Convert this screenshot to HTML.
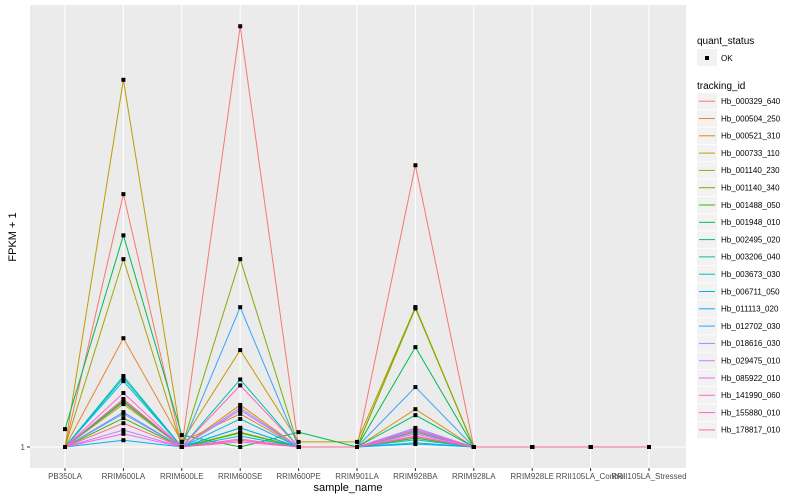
<!DOCTYPE html>
<html><head><meta charset="utf-8"><style>
body{margin:0;background:#fff;}
svg{display:block;font-family:"Liberation Sans",sans-serif;}
</style></head><body>
<svg id="chart" width="800" height="500">
<rect x="30" y="5" width="656" height="463" fill="#EBEBEB"/>
<g id="grid"></g><g id="lines"></g><g id="pts"></g><g id="axes"></g><g id="legend"></g>
<text x="348" y="491" font-size="11" text-anchor="middle" fill="#000">sample_name</text>
<text transform="translate(16,237) rotate(-90)" font-size="11" text-anchor="middle" fill="#000">FPKM + 1</text>
</svg>
<script>
const categories=["PB350LA","RRIM600LA","RRIM600LE","RRIM600SE","RRIM600PE","RRIM901LA","RRIM928BA","RRIM928LA","RRIM928LE","RRII105LA_Control","RRII105LA_Stressed"];
const seriesIds=["Hb_000329_640","Hb_000504_250","Hb_000521_310","Hb_000733_110","Hb_001140_230","Hb_001140_340","Hb_001488_050","Hb_001948_010","Hb_002495_020","Hb_003206_040","Hb_003673_030","Hb_006711_050","Hb_011113_020","Hb_012702_030","Hb_018616_030","Hb_029475_010","Hb_085922_010","Hb_141990_060","Hb_155880_010","Hb_178817_010"];
const seriesColors=["#F8766D","#EA8331","#D89000","#C09B00","#A3A500","#7CAE00","#39B600","#00BB4E","#00BF7D","#00C1A3","#00BFC4","#00BAE0","#00B0F6","#35A2FF","#9590FF","#C77CFF","#E76BF3","#FA62DB","#FF62BC","#FF6C91"];
const v01=[1,60.5,1,100,1,1,67.3,1,1,1,1];
const v02=[1,26.6,2.2,8.8,1,1,4.9,1,1,1,1];
const v03=[1,11.1,1,10.9,1,1,9.9,1,1,1,1];
const v04=[1,87.4,2.2,23.8,2.2,2.2,33.9,1,1,1,1];
const v05=[1,45.2,1,4.5,1,1,33.6,1,1,1,1];
const v06=[1,11.9,1,45.2,1,1,33.9,1,1,1,1];
const v07=[1,7.8,1,4.3,1,1,3.1,1,1,1,1];
const v08=[5.2,50.8,3.8,1,4.5,1,24.5,1,1,1,1];
const v09=[1,11.6,1,5.5,1,1,8.5,1,1,1,1];
const v10=[1,17.7,1,16.9,1,1,4.5,1,1,1,1];
const v11=[1,17.2,1,3.6,1,1,2.7,1,1,1,1];
const v12=[1,16.5,1,7.6,1,1,2.0,1,1,1,1];
const v13=[1,2.6,1,5.5,1,1,1.7,1,1,1,1];
const v14=[1,9.2,1,33.9,1,1,15.1,1,1,1,1];
const v15=[1,8.8,1,9.7,1,1,5.5,1,1,1,1];
const v16=[1,5.0,1,10.2,1,1,5.2,1,1,1,1];
const v17=[1,4.1,1,2.9,1,1,4.1,1,1,1,1];
const v18=[1,13.7,1,2.2,1,1,3.6,1,1,1,1];
const v19=[1,12.3,1,15.5,1,1,4.8,1,1,1,1];
const v20=[1,6.6,1,2.6,1,1,3.4,1,1,1,1];
const seriesValues=[v01,v02,v03,v04,v05,v06,v07,v08,v09,v10,v11,v12,v13,v14,v15,v16,v17,v18,v19,v20];
const yTicks=[1];
const NS="http://www.w3.org/2000/svg";
function xPos(i){return 65+i*58.4;}
function yPos(v){return 447-(v-1)*4.25;}
function mk(t,a,p){const e=document.createElementNS(NS,t);for(const k in a)e.setAttribute(k,a[k]);p.appendChild(e);return e;}
const grid=document.getElementById('grid'),axes=document.getElementById('axes');
yTicks.forEach(t=>{
 const l=mk('line',{x1:30,x2:686,y1:yPos(t),y2:yPos(t),stroke:'#fff','stroke-width':1.1},grid);
 
 
 const tk=mk('line',{x1:27,x2:30,y1:yPos(t),y2:yPos(t),stroke:'#333','stroke-width':1},axes);
 
 
 const tx=mk('text',{x:25,y:yPos(t)+3,'font-size':8,'text-anchor':'end',fill:'#4D4D4D'},axes);
 tx.textContent=t;
 
 
});
categories.forEach((c,i)=>{
 const l=mk('line',{x1:xPos(i),x2:xPos(i),y1:5,y2:468,stroke:'#fff','stroke-width':1.1},grid);
 
 
 const tk=mk('line',{x1:xPos(i),x2:xPos(i),y1:468,y2:471,stroke:'#333','stroke-width':1},axes);
 
 
 const tx=mk('text',{x:xPos(i),y:479,'font-size':8,'text-anchor':'middle',fill:'#4D4D4D'},axes);
 tx.textContent=c;
 
 
});
const lines=document.getElementById('lines'),pts=document.getElementById('pts');
seriesValues.forEach((vals,s)=>{
 const d=vals.map((v,i)=>(i?'L':'M')+xPos(i)+','+yPos(v)).join(' ');
 const p=mk('path',{d:d,fill:'none',stroke:seriesColors[s],'stroke-width':1},lines);
 
 
 vals.forEach((v,i)=>{
  const r=mk('rect',{x:xPos(i)-2,y:yPos(v)-2,width:4,height:4,fill:'#000'},pts);
  
  
 });
});
const lg=document.getElementById('legend');
let t=mk('text',{x:697,y:44,'font-size':10,fill:'#000'},lg);t.textContent='quant_status';


let b=mk('rect',{x:697,y:49,width:20,height:17,fill:'#F2F2F2'},lg);


let d0=mk('rect',{x:705,y:56,width:4,height:4,fill:'#000'},lg);


t=mk('text',{x:721,y:61,'font-size':8,fill:'#000'},lg);t.textContent='OK';


t=mk('text',{x:697,y:89,'font-size':10,fill:'#000'},lg);t.textContent='tracking_id';


seriesIds.forEach((id,s)=>{
 const y=93+s*17.3;
 const k=mk('rect',{x:697,y:y,width:20,height:16.5,fill:'#F2F2F2'},lg);
 
 
 const l=mk('line',{x1:699,x2:715,y1:y+8.2,y2:y+8.2,stroke:seriesColors[s],'stroke-width':1},lg);
 
 
 const tx=mk('text',{x:721,y:y+11,'font-size':8,fill:'#000'},lg);
 tx.textContent=id;
 
 
});
</script>
</body></html>
